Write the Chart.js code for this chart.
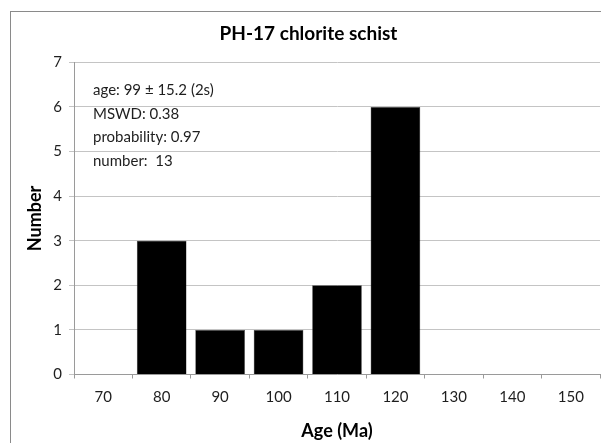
<!DOCTYPE html>
<html>
<head>
<meta charset="utf-8">
<script src="https://cdn.jsdelivr.net/npm/chart.js@4/dist/chart.umd.min.js"></script>
<style>
  html, body { margin: 0; padding: 0; background: #ffffff; }
  #wrap { width: 601px; height: 443px; position: relative; }
</style>
</head>
<body>
<div id="wrap"><canvas id="c" width="601" height="443"></canvas></div>
<script>
const categories = ['70', '80', '90', '100', '110', '120', '130', '140', '150'];
const counts = [0, 3, 1, 1, 2, 6, 0, 0, 0];
const yTicks = [0, 1, 2, 3, 4, 5, 6, 7];
const chartTitle = 'PH-17 chlorite schist';
const xTitle = 'Age (Ma)';
const yTitle = 'Number';
const statsLines = ['age: 99 \u00b1 15.2 (2s)', 'MSWD: 0.38', 'probability: 0.97', 'number:  13'];

const FONT = 'Lato, "Open Sans", "DejaVu Sans", sans-serif';

const frame = {
  id: 'frame',
  beforeDraw(chart) {
    const ctx = chart.ctx;
    ctx.save();
    ctx.fillStyle = '#ffffff';
    ctx.fillRect(0, 0, chart.width, chart.height);
    ctx.strokeStyle = '#8a8a8a';
    ctx.lineWidth = 1;
    ctx.strokeRect(10.5, 11.5, chart.width + 10, chart.height + 10);
    ctx.restore();
  }
};

const stats = {
  id: 'stats',
  afterDraw(chart) {
    const ctx = chart.ctx;
    const a = chart.chartArea;
    ctx.save();
    ctx.fillStyle = '#1e1e1e';
    ctx.font = '15px ' + FONT;
    ctx.textBaseline = 'middle';
    ctx.textAlign = 'left';
    statsLines.forEach((t, i) => {
      ctx.fillText(t, a.left + 19, a.top + 28 + i * 23.5);
    });
    ctx.restore();
  }
};

new Chart(document.getElementById('c'), {
  type: 'bar',
  data: {
    labels: categories,
    datasets: [{
      data: counts,
      backgroundColor: '#000000',
      borderColor: '#3a3a3a',
      borderWidth: 0.5,
      barPercentage: 0.85,
      categoryPercentage: 1.0
    }]
  },
  options: {
    responsive: false,
    animation: false,
    layout: { padding: { left: 17, right: 1, top: 12, bottom: 0 } },
    plugins: {
      legend: { display: false },
      tooltip: { enabled: false },
      title: {
        display: true,
        text: chartTitle,
        color: '#000000',
        font: { family: FONT, size: 19, weight: 'bold' },
        padding: { top: 10.6, bottom: 16.9 }
      }
    },
    scales: {
      x: {
        type: 'category',
        offset: true,
        afterFit(s) { s.height = 68.5; },
        grid: {
          offset: true,
          drawOnChartArea: false,
          drawTicks: true,
          tickLength: 4,
          color: '#9a9a9a'
        },
        border: { display: true, color: '#9a9a9a' },
        ticks: {
          color: '#1e1e1e',
          font: { family: FONT, size: 15 },
          padding: 10,
          maxRotation: 0
        },
        title: {
          display: true,
          text: xTitle,
          color: '#000000',
          font: { family: FONT, size: 18, weight: 'bold' },
          padding: { top: 0, bottom: 1.2 }
        }
      },
      y: {
        min: 0,
        max: 7,
        afterFit(s) { s.width = 57; },
        afterBuildTicks(s) { s.ticks = yTicks.map(v => ({ value: v })); },
        grid: {
          color: '#c4c4c4',
          drawTicks: true,
          tickLength: 5
        },
        border: { display: true, color: '#9a9a9a' },
        ticks: {
          color: '#1e1e1e',
          font: { family: FONT, size: 15 },
          padding: 7,
          stepSize: 1
        },
        title: {
          display: true,
          text: yTitle,
          color: '#000000',
          font: { family: FONT, size: 18, weight: 'bold' },
          padding: { top: 7.2, bottom: 0 }
        }
      }
    }
  },
  plugins: [frame, stats]
});
</script>
</body>
</html>
